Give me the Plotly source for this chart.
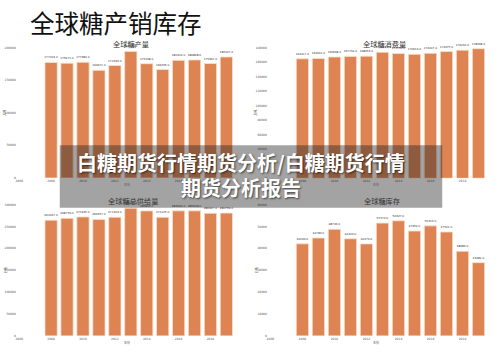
import plotly.graph_objects as go

W, H = 500, 353

years = [2008, 2009, 2010, 2011, 2012, 2013, 2014, 2015, 2016, 2017, 2018, 2019]
x_ticks = [2006, 2008, 2010, 2012, 2014, 2016, 2018]

production = [177003, 175971, 177384, 164971, 172333, 194023, 175158, 166235, 180314, 180868, 175397, 185447]
consumption = [164417, 164941, 166938, 167734, 168053, 173473, 171750, 170613, 172007, 174375, 176240, 178338]
supply = [264467, 268759, 271935, 266357, 271303, 292030, 285803, 271125, 285906, 285908, 280327, 280759]
stock = [42093, 44783, 48736, 44403, 42073, 51574, 52627, 47952, 50313, 47521, 38683, 33481]

prod_ticks = [0, 50000, 100000, 150000, 200000]
cons_ticks = [0, 20000, 40000, 60000, 80000, 100000, 120000, 140000, 160000, 180000]
supp_ticks = [0, 50000, 100000, 150000, 200000, 250000, 300000]
stock_ticks = [0, 10000, 20000, 30000, 40000, 50000, 60000]

titles = ["全球糖产量", "全球糖消费量", "全球糖总供给量", "全球糖库存"]
main_title = "全球糖产销库存"
banner_l1 = "白糖期货行情期货分析/白糖期货行情"
banner_l2 = "期货分析报告"
x_title = "年份"
y_title = "万吨"

BAR = "#DD8452"


def px(x):
    return x / W


def py(y):
    return 1 - y / H


# panel geometry in pixels: (left, right, top, bottom, x at left tick px, px per year)
panels = [
    dict(l=15, r=245, t=46, b=178, x0=17.3, ppy=16.0, vals=production, ticks=prod_ticks, top=200000),
    dict(l=267, r=495, t=46, b=178.3, x0=269.5, ppy=16.07, vals=consumption, ticks=cons_ticks, top=180000),
    dict(l=15, r=245, t=205, b=337.7, x0=17.3, ppy=16.0, vals=supply, ticks=supp_ticks, top=300000),
    dict(l=267, r=495, t=205, b=337.7, x0=269.5, ppy=16.07, vals=stock, ticks=stock_ticks, top=60000),
]
title_pos = [(130, 42), (384, 42), (131.5, 201.5), (382, 201.5)]

fig = go.Figure()
layout = {}
annotations = []
for i, p in enumerate(panels):
    s = "" if i == 0 else str(i + 1)
    xr = [2006 + (p["l"] - p["x0"]) / p["ppy"], 2006 + (p["r"] - p["x0"]) / p["ppy"]]
    fig.add_trace(go.Bar(
        x=years, y=p["vals"], width=0.77,
        marker=dict(color=BAR, line=dict(color="#f6e2d3", width=0.8)),
        text=p["vals"], texttemplate="%{y:.1f}", textposition="outside",
        textfont=dict(size=2.8, color="#333333", family="DejaVu Sans"),
        cliponaxis=False, constraintext="none",
        xaxis="x" + s, yaxis="y" + s, showlegend=False,
    ))
    layout["xaxis" + s] = dict(
        domain=[px(p["l"]), px(p["r"])], range=xr, anchor="y" + s,
        tickvals=x_ticks, ticktext=[str(v) for v in x_ticks],
        tickfont=dict(size=3, color="#555555", family="DejaVu Sans"),
        showgrid=False, zeroline=False, showline=False, ticks="", ticklen=0,
    )
    layout["yaxis" + s] = dict(
        domain=[py(p["b"]), py(p["t"])], range=[0, p["top"]], anchor="x" + s,
        tickvals=p["ticks"], ticktext=[str(v) for v in p["ticks"]],
        tickfont=dict(size=3, color="#555555", family="DejaVu Sans"),
        showgrid=False, zeroline=False, showline=False, ticks="",
    )
    tx, ty = title_pos[i]
    annotations.append(dict(x=px(tx), y=py(ty), xref="paper", yref="paper", text=titles[i],
                            showarrow=False, xanchor="center", yanchor="middle",
                            font=dict(size=7.2, color="#333333", family="Noto Sans CJK SC")))
    annotations.append(dict(x=px((p["l"] + p["r"]) / 2 - 5), y=py(p["b"] + 6.5), xref="paper", yref="paper",
                            text=x_title, showarrow=False, xanchor="center", yanchor="middle",
                            font=dict(size=3, color="#555555", family="Noto Sans CJK SC")))
    annotations.append(dict(x=px(p["l"] - 12), y=py((p["t"] + p["b"]) / 2), xref="paper", yref="paper",
                            text=y_title, showarrow=False, textangle=-90, xanchor="center", yanchor="middle",
                            font=dict(size=3, color="#555555", family="Noto Sans CJK SC")))

annotations.append(dict(x=px(26), y=py(20.5), xref="paper", yref="paper", text=main_title,
                        showarrow=False, xanchor="left", yanchor="middle",
                        font=dict(size=24.5, color="#111111", family="Noto Sans CJK SC")))
annotations.append(dict(x=px(240), y=py(162), xref="paper", yref="paper", text=banner_l1,
                        showarrow=False, xanchor="center", yanchor="middle",
                        font=dict(size=20, color="white", family="Noto Sans CJK SC", weight="bold",
                                  shadow="1px 1px 2px rgba(0,0,0,0.6)")))
annotations.append(dict(x=px(240), y=py(188), xref="paper", yref="paper", text=banner_l2,
                        showarrow=False, xanchor="center", yanchor="middle",
                        font=dict(size=20, color="white", family="Noto Sans CJK SC", weight="bold",
                                  shadow="1px 1px 2px rgba(0,0,0,0.6)")))

fig.update_layout(
    **layout,
    width=W, height=H, autosize=False,
    margin=dict(l=0, r=0, t=0, b=0),
    paper_bgcolor="white", plot_bgcolor="white",
    bargap=0.2,
    annotations=annotations,
    shapes=[dict(type="rect", xref="paper", yref="paper",
                 x0=px(58), x1=px(442), y0=py(208), y1=py(145),
                 fillcolor="rgba(35,35,35,0.42)", line=dict(width=0), layer="above")],
)

fig.write_html("out.html")
